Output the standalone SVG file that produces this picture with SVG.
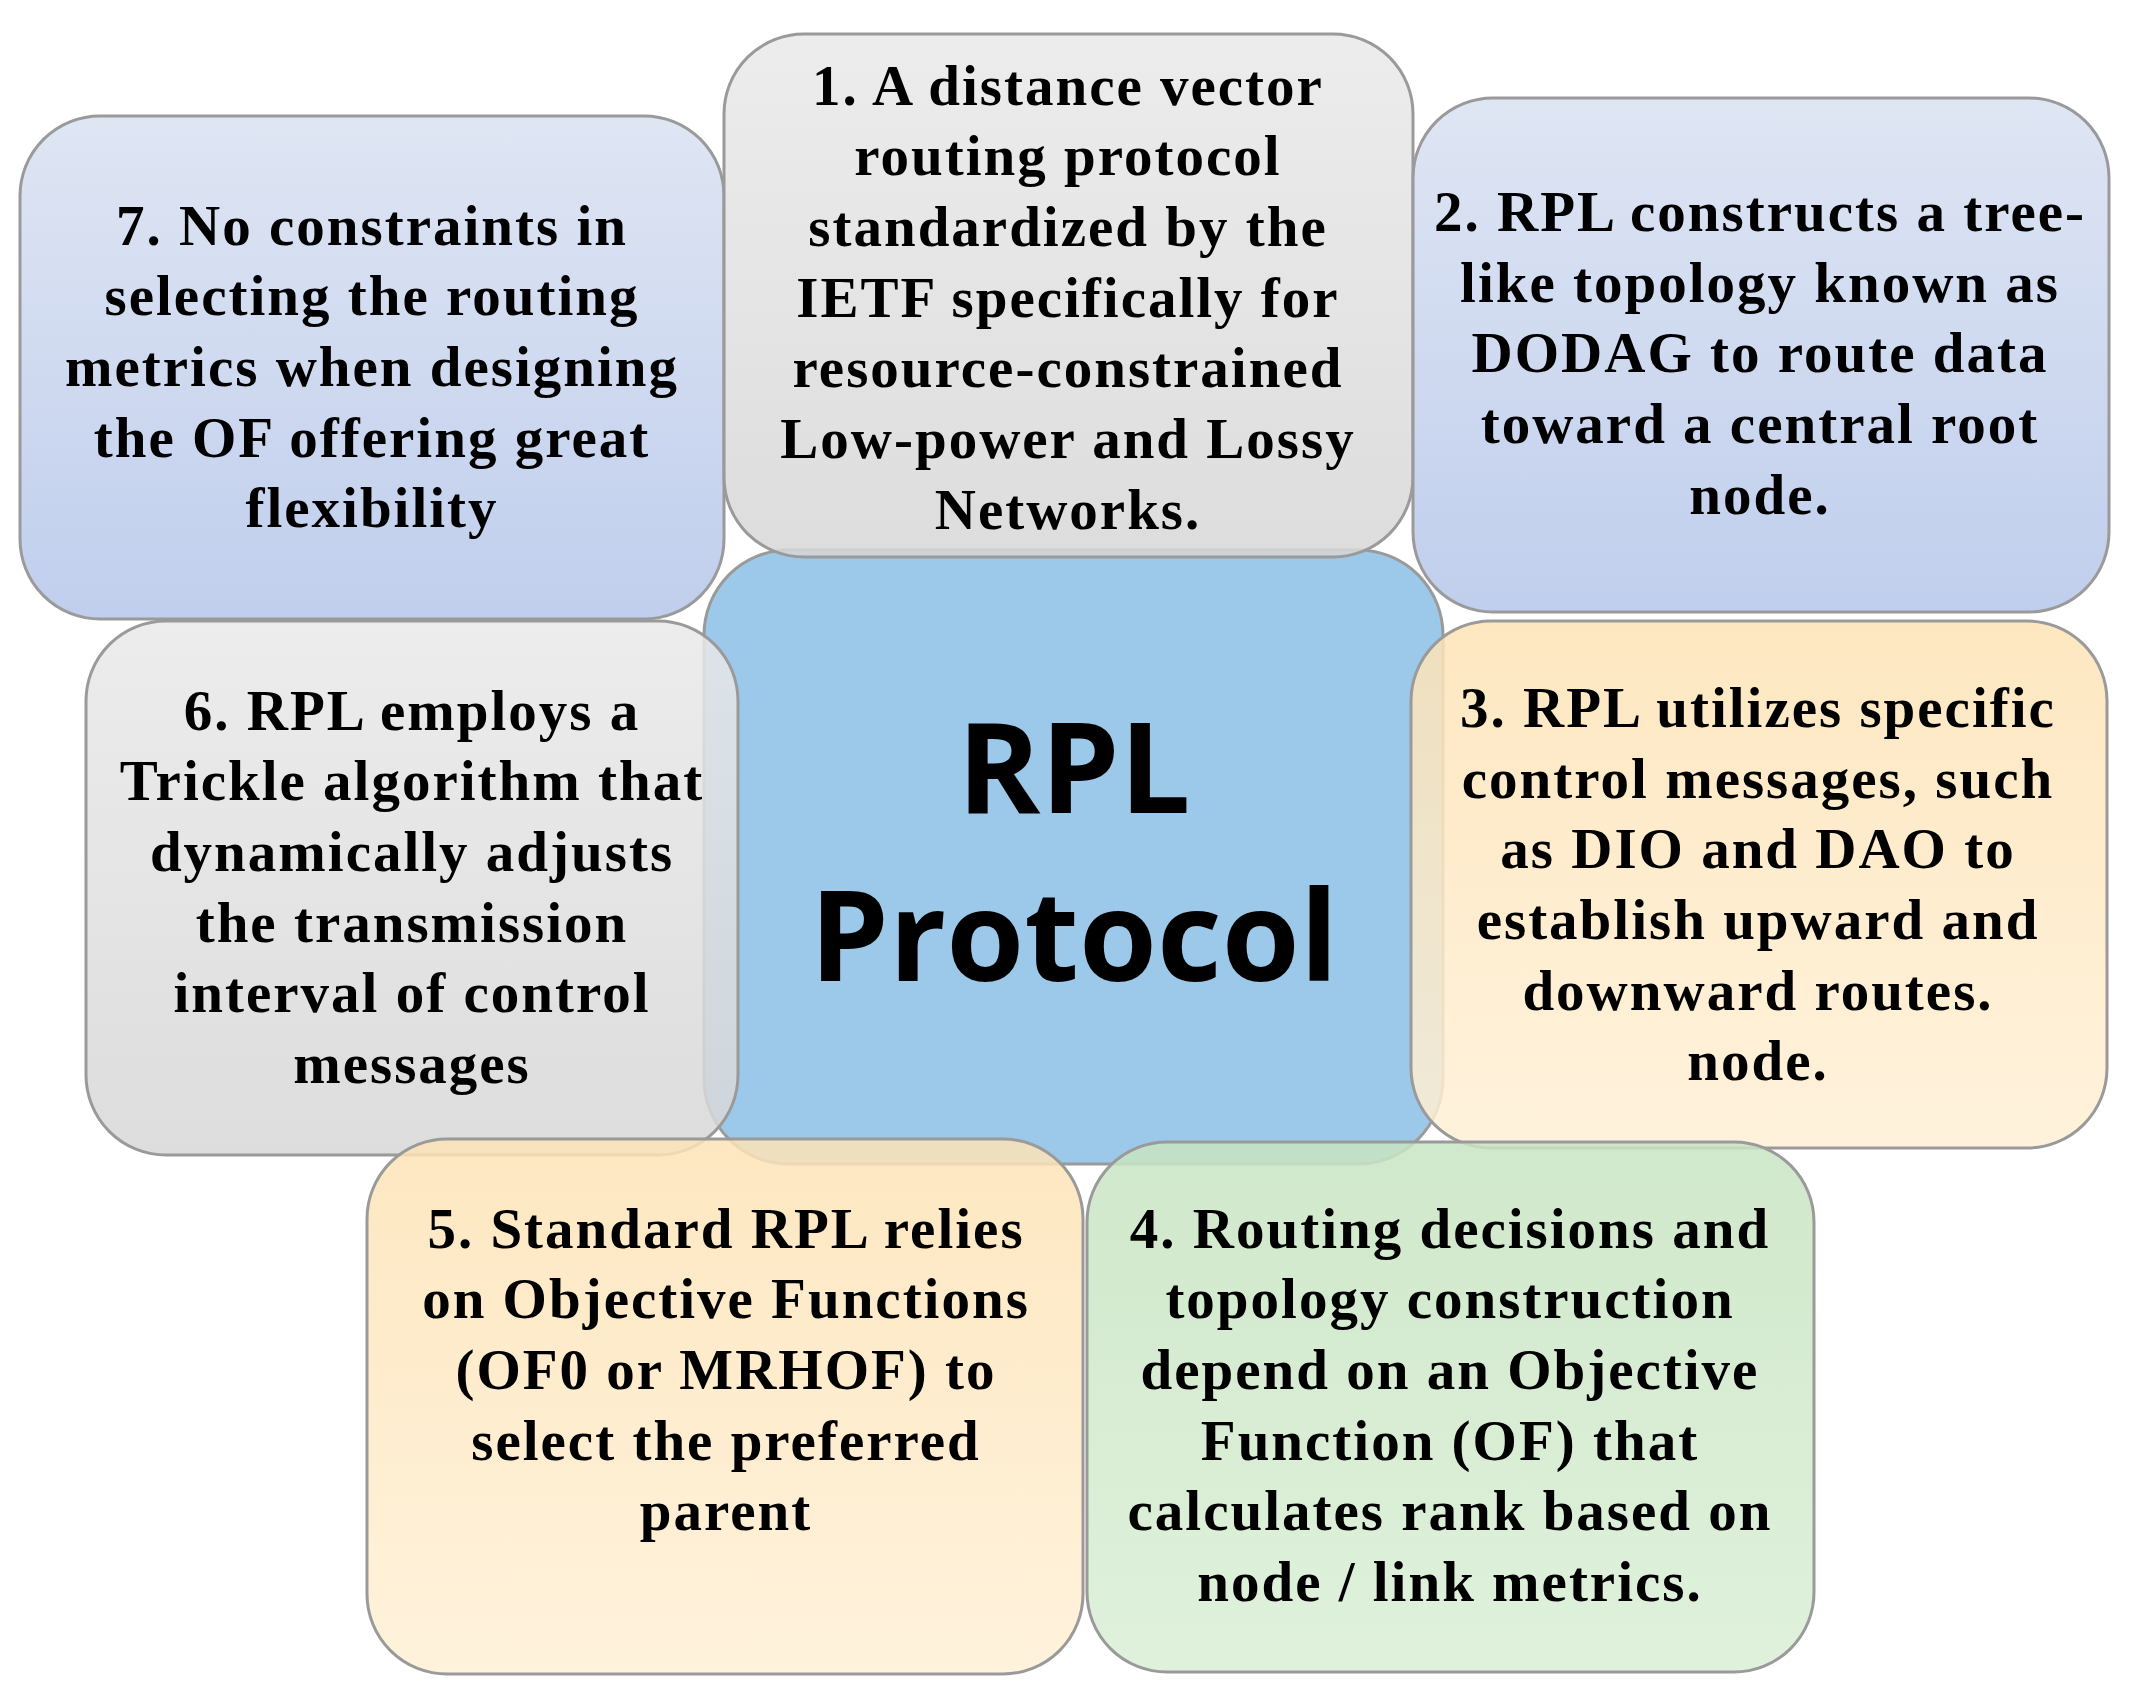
<svg xmlns="http://www.w3.org/2000/svg" width="2131" height="1702" viewBox="0 0 2131 1702">
<defs>
<linearGradient id="gb" x1="0" y1="0" x2="0" y2="1"><stop offset="0" stop-color="#d9e1f1"/><stop offset="1" stop-color="#b5c6ea"/></linearGradient>
<linearGradient id="gg" x1="0" y1="0" x2="0" y2="1"><stop offset="0" stop-color="#e9e9e9"/><stop offset="1" stop-color="#d7d7d7"/></linearGradient>
<linearGradient id="go" x1="0" y1="0" x2="0" y2="1"><stop offset="0" stop-color="#fde3b6"/><stop offset="1" stop-color="#fff0d6"/></linearGradient>
<linearGradient id="gn" x1="0" y1="0" x2="0" y2="1"><stop offset="0" stop-color="#c8e4c2"/><stop offset="1" stop-color="#daefd6"/></linearGradient>
</defs>
<style>
.b{stroke:#9a9a9a;stroke-width:3;fill-opacity:0.85}
.t{font-family:"Liberation Serif",serif;font-weight:bold;font-size:57px;letter-spacing:2px;fill:#000;text-anchor:middle}
.c{font-family:"Open Sans","Liberation Sans",sans-serif;font-weight:bold;font-size:126px;fill:#000;text-anchor:middle}
</style>
<rect width="2131" height="1702" fill="#fff"/>
<g id="center"><rect class="b" x="704" y="550" width="739" height="614" rx="85" fill="#8bbfe6" fill-opacity="1"/>
<text class="c" x="1074" y="813">RPL</text><text class="c" x="1074" y="981">Protocol</text></g>
<g id="n7"><rect class="b" x="20" y="116" width="704" height="503" rx="80" fill="url(#gb)"/>
<text class="t"><tspan x="372" y="245">7. No constraints in</tspan><tspan x="372" y="315">selecting the routing</tspan><tspan x="372" y="386">metrics when designing</tspan><tspan x="372" y="457">the OF offering great</tspan><tspan x="372" y="527">flexibility</tspan></text></g>
<g id="n1"><rect class="b" x="724" y="34" width="689" height="523" rx="80" fill="url(#gg)"/>
<text class="t"><tspan x="1068" y="105">1. A distance vector</tspan><tspan x="1068" y="175">routing protocol</tspan><tspan x="1068" y="246">standardized by the</tspan><tspan x="1068" y="317">IETF specifically for</tspan><tspan x="1068" y="387">resource-constrained</tspan><tspan x="1068" y="458">Low-power and Lossy</tspan><tspan x="1068" y="529">Networks.</tspan></text></g>
<g id="n2"><rect class="b" x="1413" y="98" width="696" height="514" rx="80" fill="url(#gb)"/>
<text class="t"><tspan x="1760" y="231">2. RPL constructs a tree-</tspan><tspan x="1760" y="302">like topology known as</tspan><tspan x="1760" y="372">DODAG to route data</tspan><tspan x="1760" y="443">toward a central root</tspan><tspan x="1760" y="514">node.</tspan></text></g>
<g id="n6"><rect class="b" x="86" y="621" width="652" height="534" rx="80" fill="url(#gg)"/>
<text class="t"><tspan x="412" y="730">6. RPL employs a</tspan><tspan x="412" y="800">Trickle algorithm that</tspan><tspan x="412" y="871">dynamically adjusts</tspan><tspan x="412" y="942">the transmission</tspan><tspan x="412" y="1012">interval of control</tspan><tspan x="412" y="1083">messages</tspan></text></g>
<g id="n3"><rect class="b" x="1411" y="621" width="696" height="527" rx="80" fill="url(#go)"/>
<text class="t"><tspan x="1758" y="727">3. RPL utilizes specific</tspan><tspan x="1758" y="798">control messages, such</tspan><tspan x="1758" y="868">as DIO and DAO to</tspan><tspan x="1758" y="939">establish upward and</tspan><tspan x="1758" y="1010">downward routes.</tspan><tspan x="1758" y="1080">node.</tspan></text></g>
<g id="n5"><rect class="b" x="367" y="1139" width="716" height="535" rx="80" fill="url(#go)"/>
<text class="t"><tspan x="726" y="1248">5. Standard RPL relies</tspan><tspan x="726" y="1318">on Objective Functions</tspan><tspan x="726" y="1389">(OF0 or MRHOF) to</tspan><tspan x="726" y="1460">select the preferred</tspan><tspan x="726" y="1530">parent</tspan></text></g>
<g id="n4"><rect class="b" x="1087" y="1142" width="727" height="530" rx="80" fill="url(#gn)"/>
<text class="t"><tspan x="1450" y="1248">4. Routing decisions and</tspan><tspan x="1450" y="1318">topology construction</tspan><tspan x="1450" y="1389">depend on an Objective</tspan><tspan x="1450" y="1460">Function (OF) that</tspan><tspan x="1450" y="1530">calculates rank based on</tspan><tspan x="1450" y="1601">node / link metrics.</tspan></text></g>
<g id="connectors"/>
</svg>
